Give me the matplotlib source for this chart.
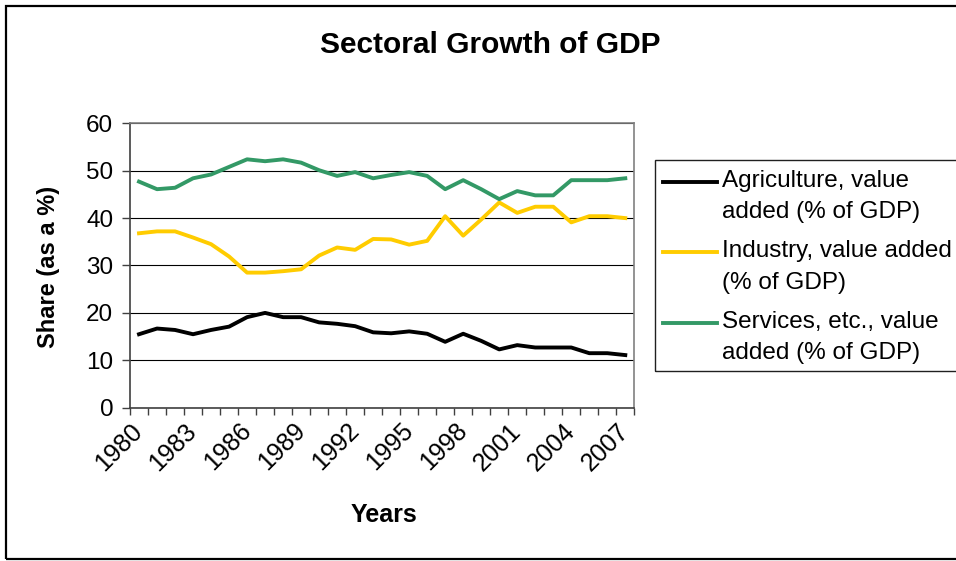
import numpy as np
import matplotlib
matplotlib.use("Agg")
import matplotlib.pyplot as plt
from matplotlib.lines import Line2D
from matplotlib.patches import Rectangle

plt.rcParams['font.family'] = ['Liberation Sans', 'DejaVu Sans']

# data
years = list(range(1980, 2008))
agriculture = [15.5, 16.7, 16.4, 15.5, 16.4, 17.1, 19.1, 20.0, 19.1, 19.1,
               18.0, 17.7, 17.2, 15.9, 15.7, 16.1, 15.6, 13.9, 15.6, 14.1,
               12.3, 13.2, 12.7, 12.7, 12.7, 11.5, 11.5, 11.1]
industry = [36.8, 37.2, 37.2, 35.9, 34.5, 31.9, 28.5, 28.5, 28.8, 29.2,
            32.1, 33.8, 33.3, 35.6, 35.5, 34.4, 35.2, 40.4, 36.3, 39.7,
            43.3, 41.1, 42.4, 42.4, 39.1, 40.4, 40.4, 40.0]
services = [47.7, 46.1, 46.4, 48.4, 49.2, 50.8, 52.4, 52.0, 52.4, 51.7,
            50.1, 48.9, 49.7, 48.4, 49.1, 49.7, 48.9, 46.1, 48.0, 46.1,
            44.0, 45.7, 44.8, 44.8, 48.0, 48.0, 48.0, 48.4]

series_names = [["Agriculture, value", "added (% of GDP)"],
                ["Industry, value added", "(% of GDP)"],
                ["Services, etc., value", "added (% of GDP)"]]
series_colors = ["#000000", "#FFCC00", "#339966"]

W, H = 956, 561


def fx(x):
    return x / W


def fy(y):
    return 1 - y / H


fig = plt.figure(figsize=(W / 100, H / 100), dpi=100)
fig.patch.set_facecolor("white")

# outer chart frame (right edge is cut off in the original)
fig.add_artist(Rectangle((fx(6), fy(559)), fx(1000) - fx(6), fy(6) - fy(559),
                         transform=fig.transFigure, fill=False,
                         edgecolor="black", linewidth=1.6))

ax = fig.add_axes([fx(130), fy(407.7), fx(634.3) - fx(130), fy(123.3) - fy(407.7)])

x = np.arange(len(years)) + 0.5
for vals, col in zip([agriculture, industry, services], series_colors):
    ax.plot(x, vals, color=col, linewidth=2.8, solid_joinstyle="round", zorder=3)

ax.set_xlim(0, len(years))
ax.set_ylim(0, 60)
ax.set_yticks(range(0, 61, 10))
ax.yaxis.grid(True, color="black", linewidth=0.8)
ax.set_axisbelow(True)

ax.set_xticks(x[::3])
ax.set_xticklabels([str(y) for y in years[::3]], rotation=45, ha="right",
                   va="center", rotation_mode="anchor")
ax.set_xticks(np.arange(0, len(years) + 1), minor=True)
ax.tick_params(axis="x", which="major", length=0, pad=14, labelsize=18)
ax.tick_params(axis="x", which="minor", length=5, width=1, color="#404040", direction="out")
ax.tick_params(axis="y", length=6, width=1, color="#404040", pad=6, labelsize=17.5)

for side in ["top", "right"]:
    ax.spines[side].set_color("#808080")
    ax.spines[side].set_linewidth(1.2)
for side in ["left", "bottom"]:
    ax.spines[side].set_color("#404040")
    ax.spines[side].set_linewidth(1.2)

fig.text(fx(490), fy(53), "Sectoral Growth of GDP", ha="center", va="baseline",
         fontsize=21.5, fontweight="bold")
fig.text(fx(49), fy(267), "Share (as a %)", rotation=90, ha="center", va="center",
         fontsize=17, fontweight="bold")
fig.text(fx(384), fy(515), "Years", ha="center", va="center",
         fontsize=18, fontweight="bold")

# legend box, drawn by hand so each handle sits on the first text line
fig.add_artist(Rectangle((fx(655), fy(371)), fx(1000) - fx(655), fy(160) - fy(371),
                         transform=fig.transFigure, fill=False,
                         edgecolor="#202020", linewidth=1.0))
for k, (lines, col) in enumerate(zip(series_names, series_colors)):
    base = 187 + 70.5 * k
    fig.add_artist(Line2D([fx(663), fx(717)], [fy(base - 5.5), fy(base - 5.5)],
                          transform=fig.transFigure, color=col, linewidth=2.8))
    for j, t in enumerate(lines):
        fig.text(fx(722), fy(base + 31 * j), t, ha="left", va="baseline", fontsize=17.5)

fig.savefig("out.png", dpi=100, facecolor="white")
